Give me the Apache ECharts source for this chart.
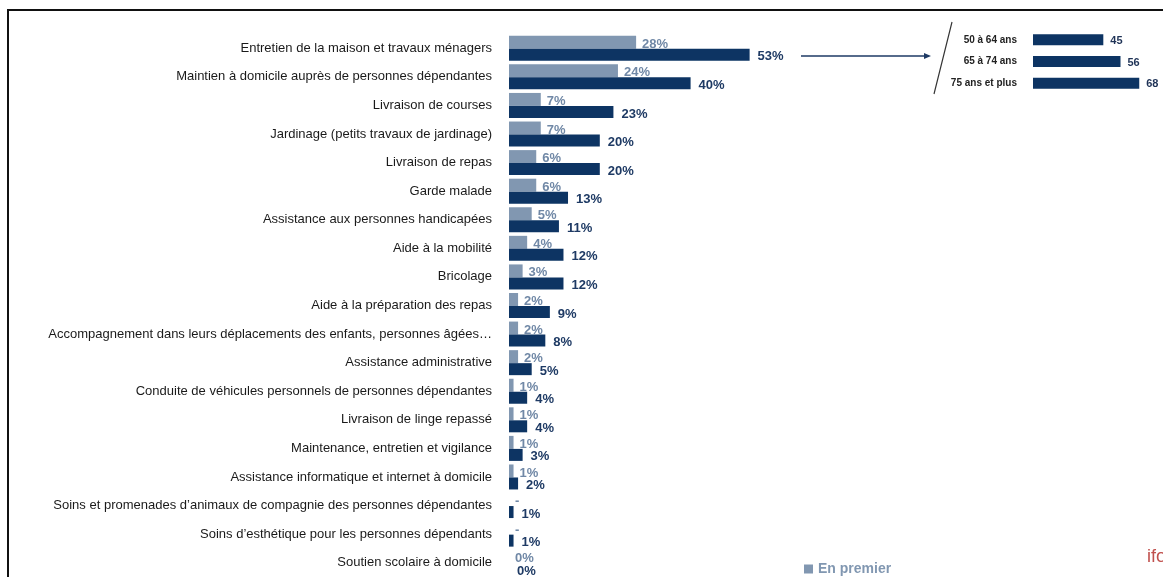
<!DOCTYPE html>
<html>
<head>
<meta charset="utf-8">
<script src="https://cdn.jsdelivr.net/npm/echarts@6/dist/echarts.min.js"></script>
<style>
  html, body { margin: 0; padding: 0; background: #fff; }
  #main { width: 1163px; height: 577px; }
</style>
</head>
<body>
<div id="main"></div>
<script>
// services
const categories = [
  'Entretien de la maison et travaux ménagers',
  'Maintien à domicile auprès de personnes dépendantes',
  'Livraison de courses',
  'Jardinage (petits travaux de jardinage)',
  'Livraison de repas',
  'Garde malade',
  'Assistance aux personnes handicapées',
  'Aide à la mobilité',
  'Bricolage',
  'Aide à la préparation des repas',
  'Accompagnement dans leurs déplacements des enfants, personnes âgées…',
  'Assistance administrative',
  'Conduite de véhicules personnels de personnes dépendantes',
  'Livraison de linge repassé',
  'Maintenance, entretien et vigilance',
  'Assistance informatique et internet à domicile',
  'Soins et promenades d\u2019animaux de compagnie des personnes dépendantes',
  'Soins d\u2019esthétique pour les personnes dépendants',
  'Soutien scolaire à domicile'
];
// "En premier" ('-' = not cited)
const premierValues = [28, 24, 7, 7, 6, 6, 5, 4, 3, 2, 2, 2, 1, 1, 1, 1, '-', '-', 0];
// total
const totalValues = [53, 40, 23, 20, 20, 13, 11, 12, 12, 9, 8, 5, 4, 4, 3, 2, 1, 1, 0];

// detail by age for the first item
const ageGroups = ['50 à 64 ans', '65 à 74 ans', '75 ans et plus'];
const ageValues = [45, 56, 68];

const LIGHT = '#8197b1';
const DARK = '#0d3463';

let chartDom = document.getElementById('main');
let myChart = echarts.init(chartDom);

let option = {
  animation: false,
  textStyle: { fontFamily: 'Liberation Sans' },
  legend: {
    data: ['En premier'],
    left: 799,
    top: 557,
    itemWidth: 9,
    itemHeight: 9,
    itemGap: 6,
    icon: 'rect',
    textStyle: { color: LIGHT, fontWeight: 'bold', fontSize: 14 }
  },
  grid: [
    { left: 509, top: 34, width: 454, height: 545 },
    { left: 1033, top: 29, width: 125, height: 65 }
  ],
  xAxis: [
    { gridIndex: 0, type: 'value', min: 0, max: 100, show: false },
    { gridIndex: 1, type: 'value', min: 0, max: 80, show: false }
  ],
  yAxis: [
    {
      gridIndex: 0,
      type: 'category',
      data: categories,
      inverse: true,
      axisLine: { show: false },
      axisTick: { show: false },
      axisLabel: { margin: 17, fontSize: 13, color: '#1a1a1a' }
    },
    {
      gridIndex: 1,
      type: 'category',
      data: ageGroups,
      inverse: true,
      axisLine: { show: false },
      axisTick: { show: false },
      axisLabel: { margin: 16, fontSize: 10, color: '#222', fontWeight: 'bold' }
    }
  ],
  series: [
    {
      name: 'En premier',
      type: 'bar',
      xAxisIndex: 0,
      yAxisIndex: 0,
      barWidth: 13,
      barGap: '0%',
      itemStyle: { color: LIGHT },
      data: premierValues.map(v => (v === '-' ? 0 : v)),
      label: {
        show: true,
        position: 'right',
        distance: 6,
        offset: [0, 2],
        fontSize: 13,
        fontWeight: 'bold',
        color: '#7088a6',
        formatter: p => (premierValues[p.dataIndex] === '-' ? '-' : premierValues[p.dataIndex] + '%')
      }
    },
    {
      name: 'Au total',
      type: 'bar',
      xAxisIndex: 0,
      yAxisIndex: 0,
      barWidth: 12,
      barGap: '0%',
      itemStyle: { color: DARK },
      data: totalValues,
      label: {
        show: true,
        position: 'right',
        distance: 8,
        offset: [0, 2],
        fontSize: 13,
        fontWeight: 'bold',
        color: '#1e3a64',
        formatter: '{c}%'
      }
    },
    {
      name: 'Âge',
      type: 'bar',
      xAxisIndex: 1,
      yAxisIndex: 1,
      barWidth: 11,
      itemStyle: { color: DARK },
      data: ageValues,
      label: {
        show: true,
        position: 'right',
        distance: 7,
        offset: [0, 1],
        fontSize: 11,
        fontWeight: 'bold',
        color: '#1e3256'
      }
    }
  ],
  graphic: [
    {
      type: 'rect',
      shape: { x: 8, y: 10, width: 1300, height: 700 },
      style: { fill: null, stroke: '#111', lineWidth: 2 },
      silent: true
    },
    {
      type: 'line',
      shape: { x1: 801, y1: 56, x2: 926, y2: 56 },
      style: { stroke: '#1e3a64', lineWidth: 1.5 }
    },
    {
      type: 'polygon',
      shape: { points: [[931, 56], [924, 53], [924, 59]] },
      style: { fill: '#1e3a64' }
    },
    {
      type: 'line',
      shape: { x1: 952, y1: 22, x2: 934, y2: 94 },
      style: { stroke: '#333', lineWidth: 1.2 }
    },
    {
      type: 'text',
      x: 1147,
      y: 548,
      style: { text: 'ifo', fill: '#c0504d', fontSize: 18, fontFamily: 'Liberation Sans' }
    }
  ]
};
myChart.setOption(option);
</script>
</body>
</html>
